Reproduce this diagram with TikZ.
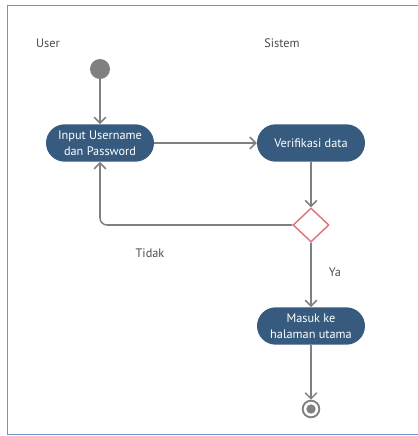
\documentclass[tikz,border=0pt]{standalone}
\usepackage{fontspec}
\setmainfont{PT Sans}
\usetikzlibrary{shapes,arrows.meta}
\definecolor{actblue}{HTML}{365B7E}
\definecolor{flowgray}{HTML}{808080}
\definecolor{decred}{HTML}{E0707A}
\definecolor{frameblue}{HTML}{6C94C9}
\begin{document}
\begin{tikzpicture}[x=0.03cm,y=-0.03cm,
  act/.style={shape=rounded rectangle,fill=actblue,text=white,align=center,
    minimum width=3.38cm,minimum height=1.12cm,inner sep=2pt,font=\fontsize{10.5}{13.5}\selectfont},
  lane/.style={text=black!70,font=\fontsize{10.5}{12}\selectfont},
  flow/.style={draw=flowgray,line width=1.3pt,-{Straight Barb[length=5pt,width=10pt]}}]
\useasboundingbox (0,0) rectangle (418,436);
\draw[frameblue,line width=1.6pt] (418,5.5) -- (7.5,5.5) -- (7.5,434.5) -- (418,434.5);
\node[lane](user) at (48,43) {User};
\node[lane](sistem) at (282,43) {Sistem};
\node(start) at (100,69) [shape=circle,fill=flowgray,minimum size=0.6cm,inner sep=0pt] {};
\node[act](input) at (100,143) {Input Username\\dan Password};
\node[act](verif) at (311,143) {Verifikasi data};
\node(dec) at (311,225) [shape=diamond,draw=decred,fill=white,line width=1.2pt,
  minimum width=1.08cm,minimum height=1.02cm,inner sep=0pt] {};
\node[act](masuk) at (311,326) {Masuk ke\\halaman utama};
\node(end) at (311,409) [shape=circle,draw=flowgray,line width=1.6pt,minimum size=0.5cm,inner sep=0pt] {};
\fill[flowgray] (end) circle (0.14cm);
\node[lane](tidak) at (150,253) {Tidak};
\node[lane](ya) at (335,272) {Ya};
\path [flow]
(start) edge (input)
(input) edge (verif)
(verif) edge (dec)
(dec) edge (masuk)
(masuk) edge (end);
\draw[flow,rounded corners=6pt] (dec.west) -| (input.south);
\end{tikzpicture}
\end{document}
